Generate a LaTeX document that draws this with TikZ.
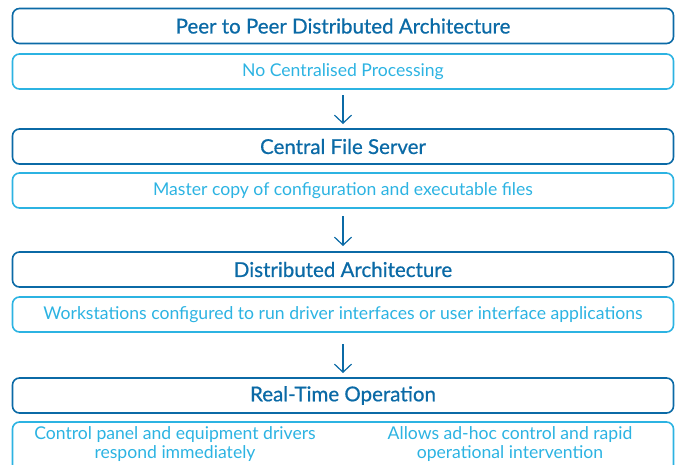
\documentclass[tikz,border=0pt]{standalone}
\usepackage{fontspec}
\setmainfont{Lato}
\newfontfamily\headfont{Lato}[FakeBold=0.7]
\usetikzlibrary{arrows.meta}
\definecolor{headblue}{HTML}{0B6AA6}
\definecolor{subblue}{HTML}{2CB3E2}
\begin{document}
\begin{tikzpicture}[x=1pt,y=-1pt,
  headbox/.style={draw=headblue,line width=1.6pt,rounded corners=7pt,
    minimum width=661pt,minimum height=35pt,inner sep=0pt,
    text=headblue,font=\headfont\fontsize{20.5}{23}\selectfont},
  subbox/.style={draw=subblue,line width=1.6pt,rounded corners=7pt,
    minimum width=661pt,minimum height=35pt,inner sep=0pt,
    text=subblue,font=\fontsize{17.6}{20}\selectfont},
  subtext/.style={text=subblue,font=\fontsize{17.6}{18.5}\selectfont,align=center,inner sep=0pt},
  flow/.style={draw=headblue,line width=1.2pt,-{Straight Barb[length=8pt,width=17pt]}}]
\useasboundingbox (0,0) rectangle (681,464);
\clip (0,0) rectangle (681,464);
% stage headings and their descriptions
\node[headbox] (h1) at (343,26) {Peer to Peer Distributed Architecture};
\node[subbox]  (s1) at (343,71.5) {No Centralised Processing};
\node[headbox] (h2) at (343,146.5) {Central File Server};
\node[subbox]  (s2) at (343,190.5) {Master copy of configuration and executable files};
\node[headbox] (h3) at (343,269.5) {Distributed Architecture};
\node[subbox]  (s3) at (343,314.5) {Workstations configured to run driver interfaces or user interface applications};
\node[headbox] (h4) at (343,395.5) {Real-Time Operation};
% last description box runs past the lower edge
\node[draw=subblue,line width=1.6pt,rounded corners=7pt,minimum width=661pt,
  minimum height=60pt,inner sep=0pt] (s4) at (343,452) {};
\node[subtext] (s4a) at (175,444) {Control panel and equipment drivers\\respond immediately};
\node[subtext] (s4b) at (510,444) {Allows ad-hoc control and rapid\\operational intervention};
% flow arrows between stages
\coordinate (a1s) at (343,95);  \coordinate (a1e) at (343,124);
\coordinate (a2s) at (343,216); \coordinate (a2e) at (343,246);
\coordinate (a3s) at (343,344); \coordinate (a3e) at (343,373);
\draw[flow] (a1s) -- (a1e);
\draw[flow] (a2s) -- (a2e);
\draw[flow] (a3s) -- (a3e);
\end{tikzpicture}
\end{document}
